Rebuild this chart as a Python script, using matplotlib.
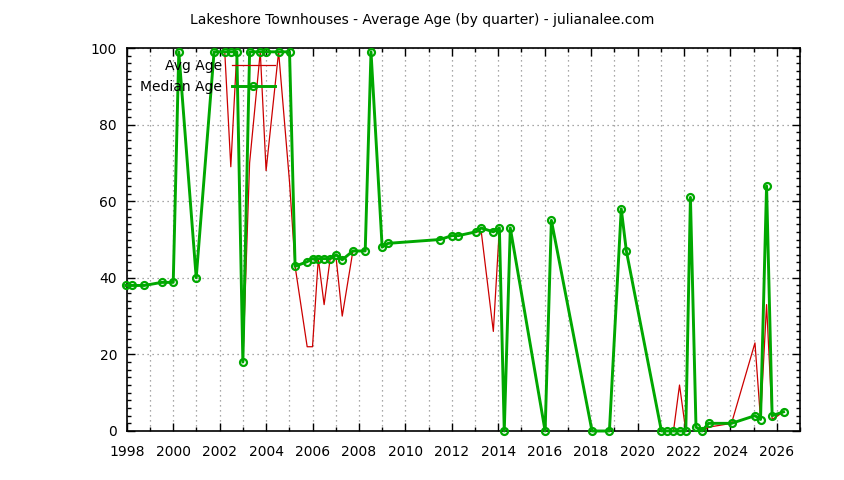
import matplotlib
matplotlib.use("Agg")
import matplotlib.pyplot as plt
from matplotlib.ticker import MultipleLocator

plt.rcParams['font.family'] = ['DejaVu Sans']

title = "Lakeshore Townhouses - Average Age (by quarter) - julianalee.com"

dates = [1997.95, 1998.23, 1998.75, 1999.5, 2000.0, 2000.24, 2000.99, 2001.76,
         2002.22, 2002.48, 2002.74, 2003.0, 2003.29, 2003.75, 2004.0, 2004.54,
         2005.01, 2005.25, 2005.77, 2006.0, 2006.25, 2006.5, 2006.76, 2007.02,
         2007.28, 2007.74, 2008.27, 2008.52, 2009.0, 2009.26, 2011.5, 2012.0,
         2012.28, 2013.03, 2013.27, 2013.79, 2014.05, 2014.26, 2014.52, 2016.02,
         2016.29, 2018.04, 2018.79, 2019.3, 2019.52, 2021.03, 2021.28, 2021.55,
         2021.81, 2022.08, 2022.28, 2022.52, 2022.78, 2023.06, 2024.05, 2025.06,
         2025.3, 2025.56, 2025.8, 2026.29]

median_age = [38, 38, 38, 38.8, 38.8, 99, 40, 99,
              99, 99, 99, 18, 99, 99, 99, 99,
              99, 43, 44.2, 45, 45, 45, 45, 46,
              44.7, 47, 47, 99, 48, 49, 50, 51,
              51, 52, 53, 52, 53, 0, 53, 0,
              55, 0, 0, 58, 47, 0, 0, 0,
              0, 0, 61, 1, 0, 2, 2, 4,
              3, 64, 4, 5]

avg_age = [37.8, 38, 38, 38.8, 38.8, 99, 40, 99,
           99, 69, 99, 18, 70, 99, 68, 99,
           65, 43, 22, 22, 45, 33, 45, 45,
           30, 47, 47, 99, 48, 49, 50, 51,
           51, 52, 52, 26, 53, 0, 53, 0,
           55, 0, 0, 58, 47, 0, 0, 0,
           12, 0, 61, 1, 0, 1, 2, 23,
           3, 33, 3, 5]

x_ticks = list(range(1998, 2027, 2))
y_ticks = [0, 20, 40, 60, 80, 100]

fig = plt.figure(figsize=(8.44, 4.80), dpi=100)
ax = fig.add_axes([126.8/844, 1-431/480, (800-126.8)/844, (431-48)/480])

red = '#cc0000'
green = '#00a800'

ax.plot(dates, avg_age, color=red, lw=0.9, label='Avg Age', zorder=3, clip_on=False)
ax.plot(dates, median_age, color=green, lw=2.1, marker='o', ms=5,
        mfc='none', mec=green, mew=1.6, label='Median Age', zorder=4, clip_on=False)

ax.set_xlim(1998, 2027)
ax.set_ylim(0, 100)
ax.set_xticks(x_ticks)
ax.set_yticks(y_ticks)
ax.xaxis.set_minor_locator(MultipleLocator(1))
ax.yaxis.set_minor_locator(MultipleLocator(2))

ax.tick_params(which='both', direction='in', top=True, right=True, labelsize=10, colors='black')
ax.tick_params(which='major', length=6, width=1)
ax.tick_params(which='minor', length=3, width=1)
ax.tick_params(axis='y', pad=7)
ax.tick_params(axis='x', pad=10)

grid_kw = dict(color='#8c8c8c', linestyle=(0, (1, 3)), linewidth=0.9)
ax.grid(True, axis='x', which='both', **grid_kw)
ax.grid(True, axis='y', which='major', **grid_kw)
ax.set_axisbelow(True)
for s in ax.spines.values():
    s.set_linewidth(1.2)

fig.text(0.5, 1-20/480, title, ha='center', va='center', fontsize=10)

ax.legend(loc='upper right', bbox_to_anchor=(275/844, 1-59/480),
          bbox_transform=fig.transFigure, frameon=False, markerfirst=False,
          borderpad=0, borderaxespad=0, handlelength=3.1, handletextpad=0.7,
          labelspacing=0.52, numpoints=1, fontsize=10)

fig.savefig('out.png', dpi=100)
